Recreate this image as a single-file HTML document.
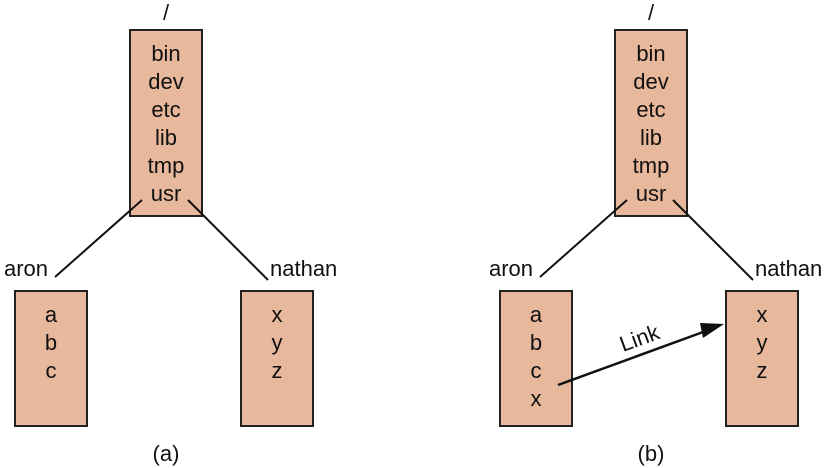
<!DOCTYPE html>
<html><head><style>
html,body{margin:0;padding:0;background:#fff;}
svg{display:block;}
text{font-family:"Liberation Sans",Arial,sans-serif;font-size:22px;fill:#111;}
</style></head><body>
<svg width="829" height="468" viewBox="0 0 829 468">
<g id="a">
<text x="166" y="20" text-anchor="middle">/</text>
<rect x="130" y="30" width="72" height="186" fill="#e8b89c" stroke="#222" stroke-width="2"/>
<g text-anchor="middle">
<text x="166" y="61">bin</text><text x="166" y="89">dev</text><text x="166" y="117">etc</text>
<text x="166" y="145">lib</text><text x="166" y="173">tmp</text><text x="166" y="201">usr</text>
</g>
<line x1="142" y1="200" x2="55" y2="277" stroke="#111" stroke-width="2"/>
<line x1="188" y1="200" x2="268" y2="280" stroke="#111" stroke-width="2"/>
<text x="4" y="276">aron</text>
<text x="270" y="276">nathan</text>
<rect x="15" y="291" width="72" height="135" fill="#e8b89c" stroke="#222" stroke-width="2"/>
<rect x="241" y="291" width="72" height="135" fill="#e8b89c" stroke="#222" stroke-width="2"/>
<g text-anchor="middle">
<text x="51" y="322">a</text><text x="51" y="350">b</text><text x="51" y="378">c</text>
<text x="277" y="322">x</text><text x="277" y="350">y</text><text x="277" y="378">z</text>
</g>
</g>
<text x="166" y="461" text-anchor="middle">(a)</text>
<use href="#a" x="485"/>
<text x="536" y="406" text-anchor="middle">x</text>
<line x1="558" y1="385" x2="710" y2="329.5" stroke="#111" stroke-width="2.5"/>
<polygon points="724,324 703,338 700,323" fill="#111"/>
<text x="0" y="0" transform="translate(623,352) rotate(-20)" font-size="21">Link</text>
<text x="651" y="461" text-anchor="middle">(b)</text>
</svg>
</body></html>
